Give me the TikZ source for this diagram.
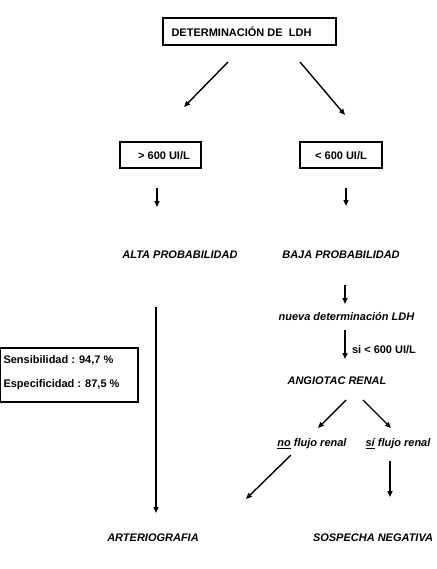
\documentclass[tikz,border=0pt]{standalone}
\usepackage{fontspec}
\setmainfont{Liberation Sans}
\usetikzlibrary{arrows.meta}
\begin{document}
\begin{tikzpicture}[x=1pt,y=-1pt,every node/.style={font=\fontsize{11}{13}\selectfont\bfseries},
  box/.style={draw,line width=1.6pt,inner sep=0pt},
  res/.style={font=\fontsize{11}{13}\selectfont\bfseries\itshape},
  arr/.style={-{Triangle[length=6pt,width=5pt]},line width=1.4pt}]
  \useasboundingbox (0,0) rectangle (436,569);
  % boxes
  \node[box,minimum width=173pt,minimum height=27pt] (ldh) at (249.5,31.5) {};
  \node[anchor=west] (ldhtxt) at (168,31.5) {DETERMINACIÓN DE\ \ LDH};
  \node[box,minimum width=81pt,minimum height=26pt] (high) at (160.5,155) {};
  \node (hightxt) at (164,156) {> 600 UI/L};
  \node[box,minimum width=82pt,minimum height=26pt] (low) at (341,155) {};
  \node (lowtxt) at (341,156) {< 600 UI/L};
  \node[box,minimum width=138pt,minimum height=54pt] (stats) at (69,375) {};
  \node[anchor=west] (sens) at (0,360) {Sensibilidad : 94,7 \%};
  \node[anchor=west] (spec) at (0,385) {Especificidad : 87,5 \%};
  % italic results
  \node[res] (alta) at (180,255) {ALTA PROBABILIDAD};
  \node[res] (baja) at (341,255) {BAJA PROBABILIDAD};
  \node[res] (nueva) at (346.5,317) {nueva determinación LDH};
  \node (cond) at (384,350) {si < 600 UI/L};
  \node[res] (angio) at (337,381) {ANGIOTAC RENAL};
  \node[res] (noflujo) at (312,444) {\underline{no} flujo renal};
  \node[res] (siflujo) at (398,444) {\underline{sí} flujo renal};
  \node[res] (arterio) at (153,538) {ARTERIOGRAFIA};
  \node[res] (negativa) at (373,538) {SOSPECHA NEGATIVA};
  % arrow ends
  \coordinate (a1) at (228,62);  \coordinate (b1) at (184,107);
  \coordinate (a2) at (300,62);  \coordinate (b2) at (345,115);
  \coordinate (a3) at (157,188); \coordinate (b3) at (157,207);
  \coordinate (a4) at (346,188); \coordinate (b4) at (346,206);
  \coordinate (a5) at (156,307); \coordinate (b5) at (156,513);
  \coordinate (a6) at (345,285); \coordinate (b6) at (345,304);
  \coordinate (a7) at (345,330); \coordinate (b7) at (345,359);
  \coordinate (a8) at (346,400); \coordinate (b8) at (318,428);
  \coordinate (a9) at (363,400); \coordinate (b9) at (391,428);
  \coordinate (a10) at (291,455); \coordinate (b10) at (246,499);
  \coordinate (a11) at (390,461); \coordinate (b11) at (390,497);
  \foreach \i in {1,...,11}
    \draw[arr] (a\i) -- (b\i);
\end{tikzpicture}
\end{document}
